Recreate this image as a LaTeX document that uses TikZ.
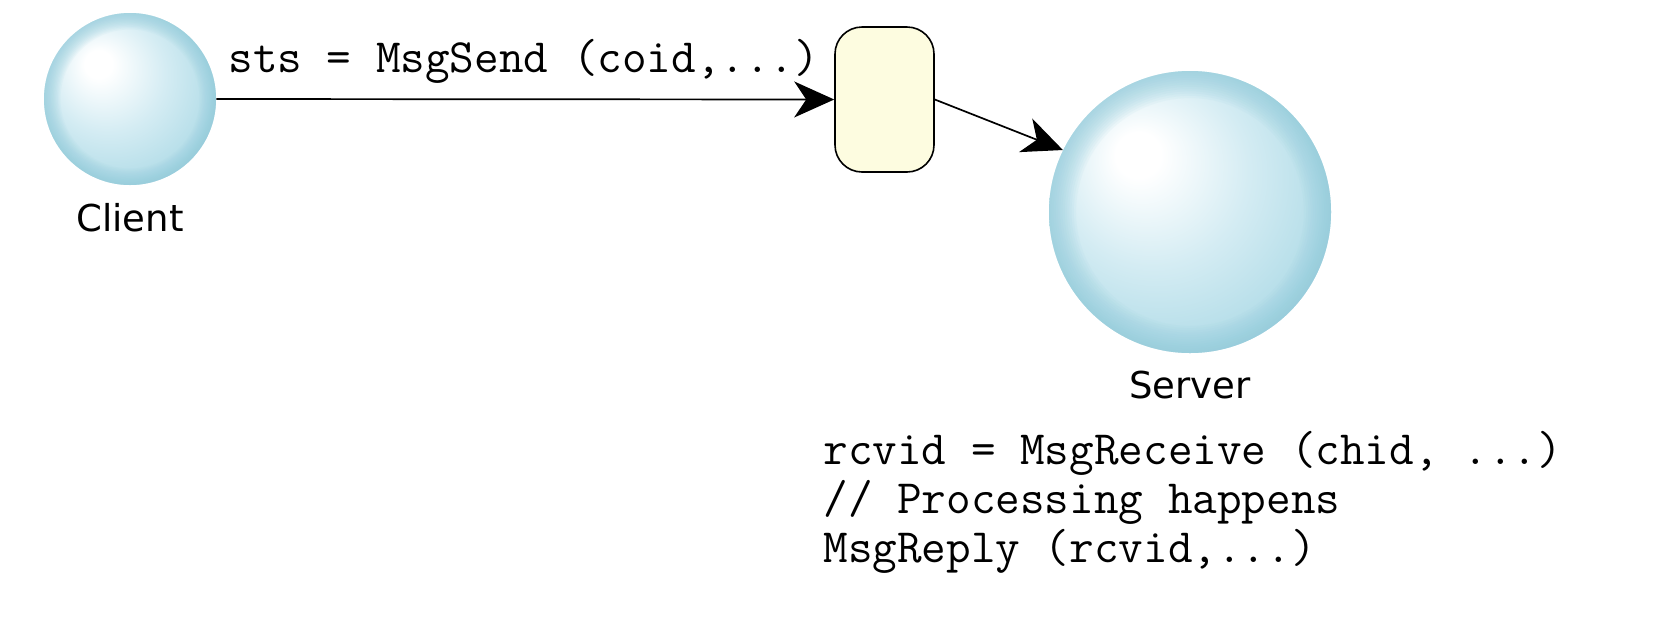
\documentclass[tikz,border=0pt]{standalone}
\usepackage{fontspec}
\setmainfont{DejaVu Sans}
\usetikzlibrary{arrows.meta}

\definecolor{sphereedge}{HTML}{92CCDC}
\definecolor{spherelight}{HTML}{D4ECF3}
\definecolor{spheremid}{HTML}{ADDAE6}
\definecolor{spheredeep}{HTML}{96CFDE}
\definecolor{queuefill}{HTML}{FDFCE0}

% body of a sphere: white highlight up and to the left, blue towards the far side
\pgfdeclareradialshading{glassball}{\pgfpoint{-10bp}{11bp}}{%
  color(0bp)=(white);
  color(4bp)=(white);
  color(17bp)=(spherelight);
  color(31bp)=(spheremid);
  color(44bp)=(spheredeep);
  color(50bp)=(spheredeep)}

% blue rim all round a sphere: stacked translucent bands
% #1 = node name, #2 = radius
\newcommand\sphererim[2]{%
  \foreach \k in {1,...,12}{%
    \fill[sphereedge, opacity=0.08, even odd rule]
      (#1.center) circle[radius=#2] circle[radius=#2*(1-0.016*\k)];
  }%
}

\tikzset{
  sphere/.style={circle, draw=none, shading=glassball, inner sep=0pt},
  queuebox/.style={draw=black, line width=0.8pt, fill=queuefill,
    rounded corners=13.5pt, minimum width=49.5pt, minimum height=72.5pt, inner sep=0pt},
  caption/.style={font=\fontsize{18.5}{22}\selectfont, inner sep=0pt, anchor=base},
  code/.style={font=\ttfamily\fontsize{23.9}{28}\selectfont, inner sep=0pt, anchor=base west},
  msg/.style={line width=0.85pt, -{Stealth[length=20pt, width=18pt, inset=6pt]}}
}

\begin{document}
\begin{tikzpicture}[x=0.5pt, y=-0.5pt]
  \useasboundingbox (0,0) rectangle (1670,628);

  % processes and the channel between them
  \node[sphere, minimum size=86pt] (client) at (130,99) {};
  \node[sphere, minimum size=141pt] (server) at (1190,212) {};
  \sphererim{client}{43pt}
  \sphererim{server}{70.5pt}
  \node[queuebox] (chan) at (884.5,99.5) {};

  % names under the spheres
  \node[caption] (clientname) at (130,231) {Client};
  \node[caption] (servername) at (1190,398) {Server};

  % client call
  \node[code] (send) at (228,72) {sts = MsgSend (coid,...)};

  % server loop
  \node[code] (recv) at (823,464) {rcvid = MsgReceive (chid, ...)};
  \node[code] (proc) at (823,513) {// Processing happens};
  \node[code] (reply) at (823,562) {MsgReply (rcvid,...)};

  % message path
  \draw[msg] (client.east) -- (chan.west);
  \draw[msg] (chan.east) -- (server.154);
\end{tikzpicture}
\end{document}
